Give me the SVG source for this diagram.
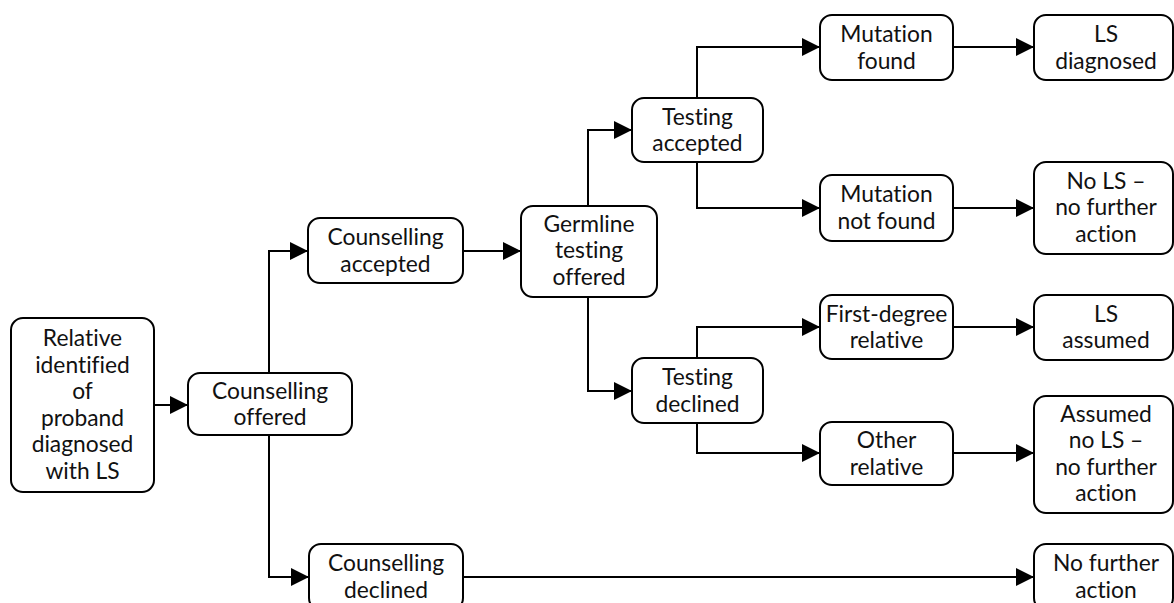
<svg xmlns="http://www.w3.org/2000/svg" width="1174" height="603" viewBox="0 0 1174 603">
  <style>
    .box { fill: #ffffff; stroke: #000000; stroke-width: 2; }
    .lbl { font-family: Lato, "Liberation Sans", sans-serif; font-size: 22.8px; fill: #111111; text-anchor: middle; font-variant-ligatures: none; }
    .link { fill: none; stroke: #000000; stroke-width: 2; marker-end: url(#head); }
  </style>
  <defs>
    <marker id="head" viewBox="0 0 18 18" refX="18" refY="9" markerWidth="18" markerHeight="18" markerUnits="userSpaceOnUse" orient="auto">
      <path d="M0,0 L18,9 L0,18 Z" fill="#000000"/>
    </marker>
  </defs>
  <rect width="1174" height="603" fill="#ffffff"/>

  <g id="connectors">
    <path class="link" d="M154,405 H188"/>
    <path class="link" d="M269,373 V251 H308"/>
    <path class="link" d="M269,435 V577 H309"/>
    <path class="link" d="M463,251 H521"/>
    <path class="link" d="M588,206 V130 H632"/>
    <path class="link" d="M588,297 V391 H632"/>
    <path class="link" d="M697,98 V47 H820"/>
    <path class="link" d="M697,162 V208 H820"/>
    <path class="link" d="M697,358 V327 H820"/>
    <path class="link" d="M697,423 V453 H820"/>
    <path class="link" d="M953,47 H1034"/>
    <path class="link" d="M953,208 H1034"/>
    <path class="link" d="M953,327 H1034"/>
    <path class="link" d="M953,453 H1034"/>
    <path class="link" d="M463,577 H1034"/>
  </g>

  <g id="relative">
    <rect class="box" x="11" y="318" width="143" height="174" rx="12"/>
    <text class="lbl" x="82.5" y="346">Relative</text>
    <text class="lbl" x="82.5" y="372.6">identified</text>
    <text class="lbl" x="82.5" y="399.2">of</text>
    <text class="lbl" x="82.5" y="425.8">proband</text>
    <text class="lbl" x="82.5" y="452.4">diagnosed</text>
    <text class="lbl" x="82.5" y="479">with LS</text>
  </g>

  <g id="counselling-offered">
    <rect class="box" x="188" y="373" width="164" height="62" rx="12"/>
    <text class="lbl" x="270" y="398.5">Counselling</text>
    <text class="lbl" x="270" y="425">offered</text>
  </g>

  <g id="counselling-accepted">
    <rect class="box" x="308" y="218" width="155" height="65" rx="12"/>
    <text class="lbl" x="385.5" y="245">Counselling</text>
    <text class="lbl" x="385.5" y="271.5">accepted</text>
  </g>

  <g id="counselling-declined">
    <rect class="box" x="309" y="544" width="154" height="66" rx="12"/>
    <text class="lbl" x="386" y="571">Counselling</text>
    <text class="lbl" x="386" y="597.5">declined</text>
  </g>

  <g id="germline-testing">
    <rect class="box" x="521" y="206" width="136" height="91" rx="12"/>
    <text class="lbl" x="589" y="231.5">Germline</text>
    <text class="lbl" x="589" y="258">testing</text>
    <text class="lbl" x="589" y="284.5">offered</text>
  </g>

  <g id="testing-accepted">
    <rect class="box" x="632" y="98" width="131" height="64" rx="12"/>
    <text class="lbl" x="697.5" y="124.5">Testing</text>
    <text class="lbl" x="697.5" y="151">accepted</text>
  </g>

  <g id="testing-declined">
    <rect class="box" x="632" y="358" width="131" height="65" rx="12"/>
    <text class="lbl" x="697.5" y="385">Testing</text>
    <text class="lbl" x="697.5" y="411.5">declined</text>
  </g>

  <g id="mutation-found">
    <rect class="box" x="820" y="15" width="133" height="65" rx="12"/>
    <text class="lbl" x="886.5" y="42">Mutation</text>
    <text class="lbl" x="886.5" y="68.5">found</text>
  </g>

  <g id="mutation-not-found">
    <rect class="box" x="820" y="175" width="133" height="66" rx="12"/>
    <text class="lbl" x="886.5" y="202">Mutation</text>
    <text class="lbl" x="886.5" y="228.5">not found</text>
  </g>

  <g id="first-degree">
    <rect class="box" x="820" y="295" width="133" height="64" rx="12"/>
    <text class="lbl" x="886.5" y="321.5">First-degree</text>
    <text class="lbl" x="886.5" y="348">relative</text>
  </g>

  <g id="other-relative">
    <rect class="box" x="820" y="422" width="133" height="63" rx="12"/>
    <text class="lbl" x="886.5" y="448">Other</text>
    <text class="lbl" x="886.5" y="474.5">relative</text>
  </g>

  <g id="ls-diagnosed">
    <rect class="box" x="1034" y="15" width="139" height="65" rx="12"/>
    <text class="lbl" x="1106" y="42">LS</text>
    <text class="lbl" x="1106" y="68.5">diagnosed</text>
  </g>

  <g id="no-ls">
    <rect class="box" x="1034" y="162" width="139" height="92" rx="12"/>
    <text class="lbl" x="1106" y="188.5">No LS –</text>
    <text class="lbl" x="1106" y="215">no further</text>
    <text class="lbl" x="1106" y="241.5">action</text>
  </g>

  <g id="ls-assumed">
    <rect class="box" x="1034" y="295" width="139" height="65" rx="12"/>
    <text class="lbl" x="1106" y="321.5">LS</text>
    <text class="lbl" x="1106" y="348">assumed</text>
  </g>

  <g id="assumed-no-ls">
    <rect class="box" x="1034" y="396" width="139" height="117" rx="12"/>
    <text class="lbl" x="1106" y="421.5">Assumed</text>
    <text class="lbl" x="1106" y="448">no LS –</text>
    <text class="lbl" x="1106" y="474.5">no further</text>
    <text class="lbl" x="1106" y="501">action</text>
  </g>

  <g id="no-further-action">
    <rect class="box" x="1034" y="544" width="139" height="66" rx="12"/>
    <text class="lbl" x="1106" y="571">No further</text>
    <text class="lbl" x="1106" y="597.5">action</text>
  </g>
</svg>
